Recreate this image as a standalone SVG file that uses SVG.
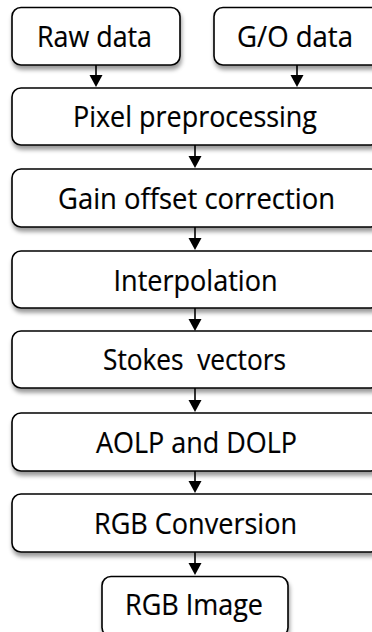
<svg xmlns="http://www.w3.org/2000/svg" width="372" height="632" viewBox="0 0 372 632">
<defs>
<filter id="sh" x="-10%" y="-20%" width="130%" height="160%">
<feDropShadow dx="1" dy="4" stdDeviation="2" flood-color="#000" flood-opacity="0.4"/>
</filter>
</defs>
<style>
.box{fill:#fff;stroke:#000;stroke-width:1.6;filter:url(#sh)}
.lbl{font-family:"Open Sans","Noto Sans",sans-serif;font-size:29px;fill:#000;stroke:#000;stroke-width:0.2;text-anchor:middle}
.con{stroke:#000;stroke-width:1.6;fill:none}
.head{fill:#000}
</style>
<rect width="372" height="632" fill="#fff"/>
<g id="connectors">
<line class="con" x1="96" y1="65" x2="96" y2="76"/><path class="head" d="M89.5,75 L102.5,75 L96,87 Z"/>
<line class="con" x1="297" y1="65" x2="297" y2="76"/><path class="head" d="M290.5,75 L303.5,75 L297,87 Z"/>
<line class="con" x1="195" y1="145" x2="195" y2="157"/><path class="head" d="M188.5,156 L201.5,156 L195,168 Z"/>
<line class="con" x1="195" y1="227" x2="195" y2="239"/><path class="head" d="M188.5,238 L201.5,238 L195,250 Z"/>
<line class="con" x1="195" y1="308" x2="195" y2="320"/><path class="head" d="M188.5,319 L201.5,319 L195,331 Z"/>
<line class="con" x1="195" y1="388" x2="195" y2="401"/><path class="head" d="M188.5,400 L201.5,400 L195,412 Z"/>
<line class="con" x1="195" y1="471" x2="195" y2="482"/><path class="head" d="M188.5,481 L201.5,481 L195,493 Z"/>
<line class="con" x1="195" y1="552" x2="195" y2="564"/><path class="head" d="M188.5,563 L201.5,563 L195,575 Z"/>
</g>
<g id="raw"><rect class="box" x="12" y="7.5" width="168" height="57.5" rx="9"/><text class="lbl" x="94.5" y="47" textLength="115" lengthAdjust="spacingAndGlyphs">Raw data</text></g>
<g id="go"><rect class="box" x="214" y="7.5" width="168" height="57.5" rx="9"/><text class="lbl" x="295" y="47" textLength="116" lengthAdjust="spacingAndGlyphs">G/O data</text></g>
<g id="pixel"><rect class="box" x="12" y="88" width="368" height="57" rx="9"/><text class="lbl" x="195" y="127.3" textLength="244" lengthAdjust="spacingAndGlyphs">Pixel preprocessing</text></g>
<g id="gain"><rect class="box" x="12" y="169" width="368" height="58" rx="9"/><text class="lbl" x="196.5" y="208.8" textLength="277" lengthAdjust="spacingAndGlyphs">Gain offset correction</text></g>
<g id="interp"><rect class="box" x="12" y="251" width="368" height="57" rx="9"/><text class="lbl" x="195.5" y="290.5" textLength="164" lengthAdjust="spacingAndGlyphs">Interpolation</text></g>
<g id="stokes"><rect class="box" x="12" y="331" width="368" height="57" rx="9"/><text class="lbl" x="194.5" y="370.3" textLength="183" lengthAdjust="spacingAndGlyphs" xml:space="preserve">Stokes  vectors</text></g>
<g id="aolp"><rect class="box" x="12" y="413" width="368" height="58" rx="9"/><text class="lbl" x="196.5" y="452.8" textLength="201" lengthAdjust="spacingAndGlyphs">AOLP and DOLP</text></g>
<g id="rgbconv"><rect class="box" x="12" y="494" width="368" height="58" rx="9"/><text class="lbl" x="195.5" y="533.8" textLength="203" lengthAdjust="spacingAndGlyphs">RGB Conversion</text></g>
<g id="rgbimg"><rect class="box" x="102" y="576.5" width="186" height="60" rx="9"/><text class="lbl" x="194" y="615.3" textLength="138" lengthAdjust="spacingAndGlyphs">RGB Image</text></g>
</svg>
